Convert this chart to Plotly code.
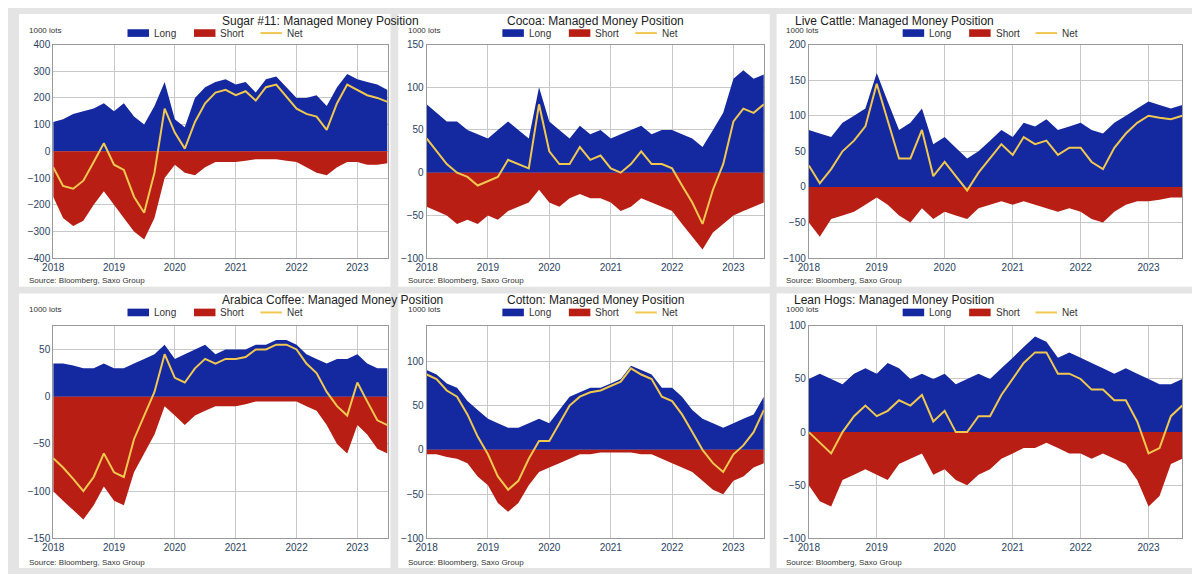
import plotly.graph_objects as go

# bimonthly dates 2018-01 .. 2023-07
dates = [f"{2018 + i // 6}-{(i % 6) * 2 + 1:02d}-01" for i in range(34)]

sugar_long = [110,120,140,150,160,180, 150,180,130,100,170,260, 120,90,200,240,260,270,
              250,260,220,270,280,240, 200,200,210,170,240,290, 270,260,250,230]
sugar_short = [-170,-250,-280,-260,-200,-150, -200,-250,-300,-330,-250,-100, -50,-80,-90,-60,-40,-40,
               -40,-35,-30,-30,-30,-35, -40,-60,-80,-90,-60,-40, -40,-50,-50,-45]
cocoa_long = [80,70,60,60,50,45, 40,50,60,50,40,100, 60,50,40,55,45,50,
              40,45,50,55,45,50, 50,45,40,30,50,70, 110,120,110,115]
cocoa_short = [-40,-45,-50,-60,-55,-60, -50,-55,-45,-40,-35,-20, -35,-40,-30,-25,-30,-30,
               -35,-45,-40,-30,-35,-40, -45,-60,-75,-90,-70,-60, -50,-45,-40,-35]
cattle_long = [80,75,70,90,100,110, 160,120,80,90,110,60, 70,55,40,50,65,80,
               70,90,85,95,80,85, 90,80,75,90,100,110, 120,115,110,115]
cattle_short = [-50,-70,-45,-40,-35,-25, -15,-25,-40,-50,-30,-45, -35,-40,-45,-30,-25,-20,
                -25,-20,-25,-30,-35,-30, -35,-45,-50,-35,-25,-20, -20,-18,-15,-15]
coffee_long = [35,35,33,30,30,35, 30,30,35,40,45,55, 40,45,50,55,45,50,
               50,50,55,55,60,60, 55,45,40,35,40,40, 45,35,30,30]
coffee_short = [-100,-110,-120,-130,-115,-95, -110,-115,-80,-60,-40,-10, -20,-30,-20,-15,-10,-10,
                -10,-8,-5,-5,-5,-5, -5,-10,-15,-30,-50,-60, -30,-40,-55,-60]
cotton_long = [90,85,75,70,55,45, 35,30,25,25,30,35, 30,45,60,65,70,70,
               75,80,95,90,85,70, 70,60,45,35,30,25, 30,35,40,60]
cotton_short = [-5,-5,-8,-10,-15,-30, -40,-60,-70,-60,-40,-25, -20,-15,-10,-5,-5,-3,
                -3,-3,-3,-5,-5,-10, -15,-20,-25,-35,-45,-50, -35,-30,-20,-15]
hogs_long = [50,55,50,45,55,60, 55,65,60,50,55,50, 55,45,50,55,50,60,
             70,80,90,85,70,75, 70,65,60,55,60,55, 50,45,45,50]
hogs_short = [-50,-65,-70,-45,-40,-35, -40,-45,-30,-25,-20,-40, -35,-45,-50,-40,-35,-25,
              -20,-15,-15,-10,-15,-20, -20,-25,-20,-25,-30,-45, -70,-60,-30,-25]

panels = [
    ("Sugar #11: Managed Money Position", sugar_long, sugar_short, [-400, 400], 100),
    ("Cocoa: Managed Money Position", cocoa_long, cocoa_short, [-100, 150], 50),
    ("Live Cattle: Managed Money Position", cattle_long, cattle_short, [-100, 200], 50),
    ("Arabica Coffee: Managed Money Position", coffee_long, coffee_short, [-150, 75], 50),
    ("Cotton: Managed Money Position", cotton_long, cotton_short, [-100, 140], 50),
    ("Lean Hogs: Managed Money Position", hogs_long, hogs_short, [-100, 100], 50),
]

RW, RH = 1200, 581
W, H = 1184, 566
boxes = [(0, 380, 0, 286), (388, 768, 0, 286), (775, 1200, 0, 286),
         (0, 380, 293, 581), (388, 768, 293, 581), (775, 1200, 293, 581)]
plots = [(35, 377, 32, 256), (417, 762, 32, 256), (808, 1190, 32, 256),
         (35, 377, 327, 550), (417, 762, 327, 550), (808, 1190, 327, 550)]

def px(v):
    return v / RW

def py(v):
    return 1 - v / RH

BLUE, RED, GOLD = "#1428a0", "#b81e14", "#f0c850"

fig = go.Figure()
shapes, annos = [], []
layout = {}
for k, (title, lg, sh, yr, dt) in enumerate(panels):
    n = "" if k == 0 else str(k + 1)
    xa, ya = "x" + n, "y" + n
    net = [a + b for a, b in zip(lg, sh)]
    fig.add_trace(go.Scatter(x=dates, y=lg, fill="tozeroy", mode="none", fillcolor=BLUE,
                             xaxis=xa, yaxis=ya, showlegend=False))
    fig.add_trace(go.Scatter(x=dates, y=sh, fill="tozeroy", mode="none", fillcolor=RED,
                             xaxis=xa, yaxis=ya, showlegend=False))
    fig.add_trace(go.Scatter(x=dates, y=net, mode="lines", line=dict(color=GOLD, width=2),
                             xaxis=xa, yaxis=ya, showlegend=False))
    x0, x1, y0, y1 = plots[k]
    layout["xaxis" + n] = dict(domain=[px(x0), px(x1)], anchor=ya, range=["2018-01-01", "2023-07-01"],
                               dtick="M12", tickformat="%Y", showgrid=True, gridcolor="#c8c8c8",
                               tickfont=dict(size=10), showline=True, linecolor="#999", mirror=True,
                               ticks="", zeroline=False)
    layout["yaxis" + n] = dict(domain=[py(y1), py(y0)], anchor=xa, range=yr, dtick=dt,
                               showgrid=True, gridcolor="#c8c8c8", tickfont=dict(size=10),
                               showline=True, linecolor="#999", mirror=True, zeroline=False)
    bx0, bx1, by0, by1 = boxes[k]
    shapes.append(dict(type="rect", xref="paper", yref="paper", x0=px(bx0), x1=px(bx1),
                       y0=py(by1), y1=py(by0), fillcolor="white", line=dict(width=0),
                       layer="below"))
    cx = (x0 + x1) / 2
    annos.append(dict(text=title, x=px(cx), y=py(by0 + 7), xref="paper", yref="paper",
                      yanchor="middle", showarrow=False, font=dict(size=12, color="#222")))
    annos.append(dict(text="1000 lots", x=px(bx0 + 8), y=py(by0 + 17), xref="paper",
                      yref="paper", xanchor="left", yanchor="middle", showarrow=False,
                      font=dict(size=8, color="#333")))
    annos.append(dict(text="Source: Bloomberg, Saxo Group", x=px(bx0 + 8), y=py(by1 - 6),
                      xref="paper", yref="paper", xanchor="left", yanchor="middle", showarrow=False,
                      font=dict(size=8, color="#333")))
    ly = by0 + 20
    for j, (lab, col) in enumerate([("Long", BLUE), ("Short", RED), ("Net", GOLD)]):
        lx = cx - 95 + j * 68
        if lab == "Net":
            shapes.append(dict(type="line", xref="paper", yref="paper", x0=px(lx), x1=px(lx + 22),
                               y0=py(ly), y1=py(ly), line=dict(color=col, width=2)))
        else:
            shapes.append(dict(type="rect", xref="paper", yref="paper", x0=px(lx), x1=px(lx + 22),
                               y0=py(ly + 4), y1=py(ly - 4), fillcolor=col, line=dict(width=0)))
        annos.append(dict(text=lab, x=px(lx + 25), y=py(ly), xref="paper", yref="paper",
                          xanchor="left", yanchor="middle", showarrow=False,
                          font=dict(size=10, color="#333")))

fig.update_layout(width=W, height=H, margin=dict(l=0, r=0, t=0, b=0), paper_bgcolor="#e4e4e4",
                  plot_bgcolor="white", shapes=shapes, annotations=annos,
                  font=dict(family="Liberation Sans"), **layout)
fig.write_html("out.html")
